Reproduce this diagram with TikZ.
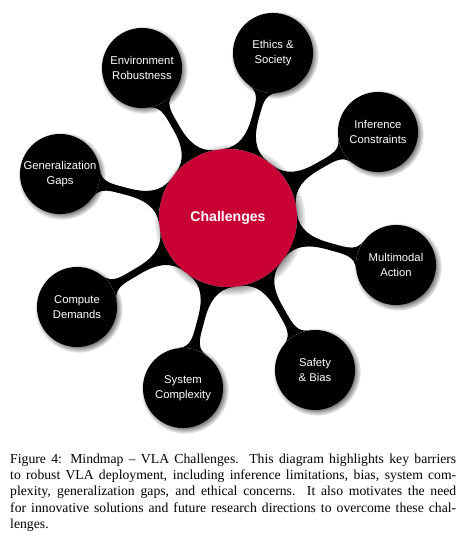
\documentclass[tikz,border=0pt]{standalone}
\usepackage{fontspec}
\setmainfont{Liberation Serif}
\newfontfamily\nodefont{Liberation Sans}
\usetikzlibrary{mindmap,shadows,fadings}
\definecolor{rootred}{RGB}{200,0,52}
\begin{document}
\begin{tikzpicture}[x=0.8244pt,y=-0.8244pt,
  every node/.style={inner sep=0pt},
  rootc/.style={circle, fill=rootred, minimum size=113.8pt, text=white,
    font=\nodefont\bfseries\fontsize{11.6}{13}\selectfont, circular drop shadow},
  leaf/.style={circle, fill=black, minimum size=66pt, text=white, align=center,
    font=\nodefont\fontsize{9.3}{12.4}\selectfont, circular drop shadow},
  bar/.style={circle connection bar switch color=from (black) to (black)}
]
\useasboundingbox (0,0) rectangle (466,540);
\node[rootc] (root) at (228,218) {Challenges};
\node[leaf] (env) at (142,68) {Environment\\Robustness};
\node[leaf] (eth) at (273,53) {Ethics \&\\Society};
\node[leaf] (inf) at (378,132) {Inference\\Constraints};
\node[leaf] (mul) at (396,265) {Multimodal\\Action};
\node[leaf] (saf) at (315,370) {Safety\\\& Bias};
\node[leaf] (sys) at (183,388) {System\\Complexity};
\node[leaf] (com) at (77,307) {Compute\\Demands};
\node[leaf] (gen) at (60,174) {Generalization\\Gaps};
\foreach \c in {env,eth,inf,mul,saf,sys,com,gen}
  \path (root) to[bar] (\c);
\node[anchor=base west, text width=367.7pt, align=justify,
  font=\fontsize{11.3}{13.6}\selectfont] (cap) at (10,463)
  {Figure 4: Mindmap -- VLA Challenges.\ \ This diagram highlights key barriers\linebreak
   to robust VLA deployment, including inference limitations, bias, system com-\linebreak
   plexity, generalization gaps, and ethical concerns.\ \ It also motivates the need\linebreak
   for innovative solutions and future research directions to overcome these chal-\linebreak
   lenges.};
\end{tikzpicture}
\end{document}
